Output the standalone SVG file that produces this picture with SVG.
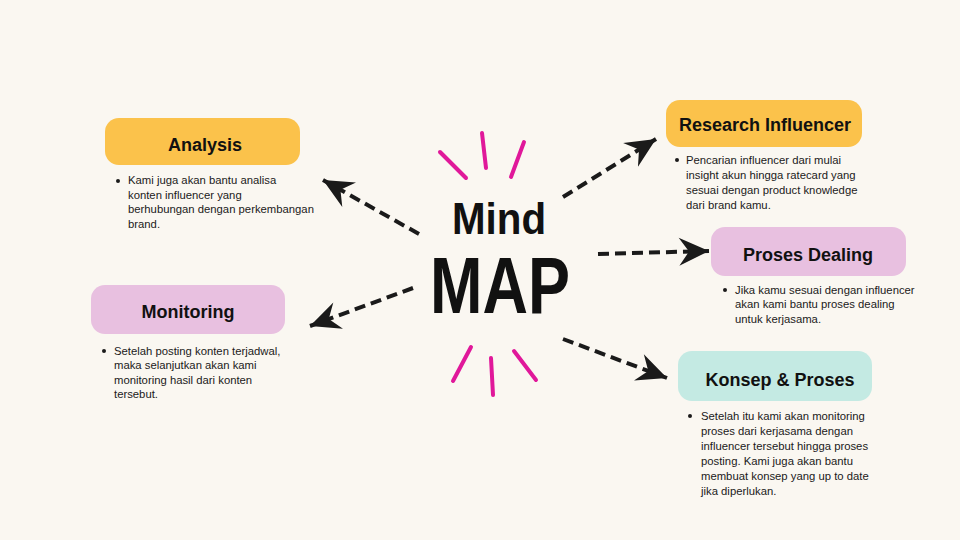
<svg xmlns="http://www.w3.org/2000/svg" width="960" height="540" viewBox="0 0 960 540">
<defs>
<style>
.bg{fill:#FAF7F1}
.yellow{fill:#FBC24B}
.pink{fill:#E8C0E0}
.mint{fill:#C4EAE3}
.head{font-family:"Liberation Sans",Arial,sans-serif;font-weight:bold;font-size:18px;fill:#111;text-anchor:middle}
.body{font-family:"Liberation Sans",Arial,sans-serif;font-size:11.3px;fill:#1a1a1a}
.dot{fill:#1a1a1a}
.conn{stroke:#1a1a1a;stroke-width:4;stroke-dasharray:11 6;fill:none;marker-end:url(#arr)}
.ray{stroke:#E0189A;stroke-width:4;stroke-linecap:round;fill:none}
.title{font-family:"Liberation Sans",Arial,sans-serif;font-weight:bold;fill:#111;text-anchor:middle}
</style>
<marker id="arr" markerUnits="userSpaceOnUse" viewBox="-32 -16 34 32" markerWidth="34" markerHeight="32" refX="0" refY="0" orient="auto">
<path d="M0,0 L-30,-14 L-20,0 L-30,14 Z" fill="#1a1a1a"/>
</marker>
</defs>
<rect class="bg" x="0" y="0" width="960" height="540"/>

<g id="center">
<line class="ray" x1="440" y1="152" x2="466" y2="178"/>
<line class="ray" x1="482" y1="133" x2="486" y2="168"/>
<line class="ray" x1="524" y1="142" x2="511" y2="177"/>
<line class="ray" x1="471" y1="347" x2="453" y2="381"/>
<line class="ray" x1="491" y1="358" x2="493" y2="395"/>
<line class="ray" x1="514" y1="351" x2="536" y2="380"/>
<text class="title" x="499" y="234" font-size="44" textLength="94" lengthAdjust="spacingAndGlyphs">Mind</text>
<text class="title" x="500" y="313" font-size="80" textLength="140" lengthAdjust="spacingAndGlyphs">MAP</text>
</g>

<g id="connectors">
<line class="conn" x1="419" y1="234" x2="323" y2="180"/>
<line class="conn" x1="413" y1="288" x2="310" y2="326"/>
<line class="conn" x1="563" y1="197" x2="656" y2="139"/>
<line class="conn" x1="598" y1="254" x2="709" y2="251"/>
<line class="conn" x1="563" y1="339" x2="667" y2="378"/>
</g>

<g id="analysis">
<rect class="yellow" x="105" y="118" width="195" height="47" rx="14"/>
<text class="head" x="205" y="151">Analysis</text>
<circle class="dot" cx="118" cy="181" r="2"/>
<text class="body" x="128" y="184">Kami juga akan bantu analisa</text>
<text class="body" x="128" y="199">konten influencer yang</text>
<text class="body" x="128" y="213">berhubungan dengan perkembangan</text>
<text class="body" x="128" y="228">brand.</text>
</g>

<g id="monitoring">
<rect class="pink" x="91" y="285" width="194" height="49" rx="14"/>
<text class="head" x="188" y="318">Monitoring</text>
<circle class="dot" cx="104" cy="351" r="2"/>
<text class="body" x="114" y="355">Setelah posting konten terjadwal,</text>
<text class="body" x="114" y="369">maka selanjutkan akan kami</text>
<text class="body" x="114" y="384">monitoring hasil dari konten</text>
<text class="body" x="114" y="398">tersebut.</text>
</g>

<g id="research">
<rect class="yellow" x="666" y="100" width="196" height="47" rx="14"/>
<text class="head" x="765" y="131">Research Influencer</text>
<circle class="dot" cx="677" cy="160" r="2"/>
<text class="body" x="686" y="164">Pencarian influencer dari mulai</text>
<text class="body" x="686" y="179">insight akun hingga ratecard yang</text>
<text class="body" x="686" y="194">sesuai dengan product knowledge</text>
<text class="body" x="686" y="209">dari brand kamu.</text>
</g>

<g id="dealing">
<rect class="pink" x="711" y="227" width="195" height="49" rx="14"/>
<text class="head" x="808" y="261">Proses Dealing</text>
<circle class="dot" cx="725" cy="290" r="2"/>
<text class="body" x="735" y="294">Jika kamu sesuai dengan influencer</text>
<text class="body" x="735" y="308">akan kami bantu proses dealing</text>
<text class="body" x="735" y="323">untuk kerjasama.</text>
</g>

<g id="konsep">
<rect class="mint" x="678" y="351" width="194" height="50" rx="14"/>
<text class="head" x="780" y="386">Konsep &amp; Proses</text>
<circle class="dot" cx="690" cy="416" r="2"/>
<text class="body" x="701" y="420">Setelah itu kami akan monitoring</text>
<text class="body" x="701" y="435">proses dari kerjasama dengan</text>
<text class="body" x="701" y="450">influencer tersebut hingga proses</text>
<text class="body" x="701" y="465">posting. Kami juga akan bantu</text>
<text class="body" x="701" y="480">membuat konsep yang up to date</text>
<text class="body" x="701" y="495">jika diperlukan.</text>
</g>
</svg>
